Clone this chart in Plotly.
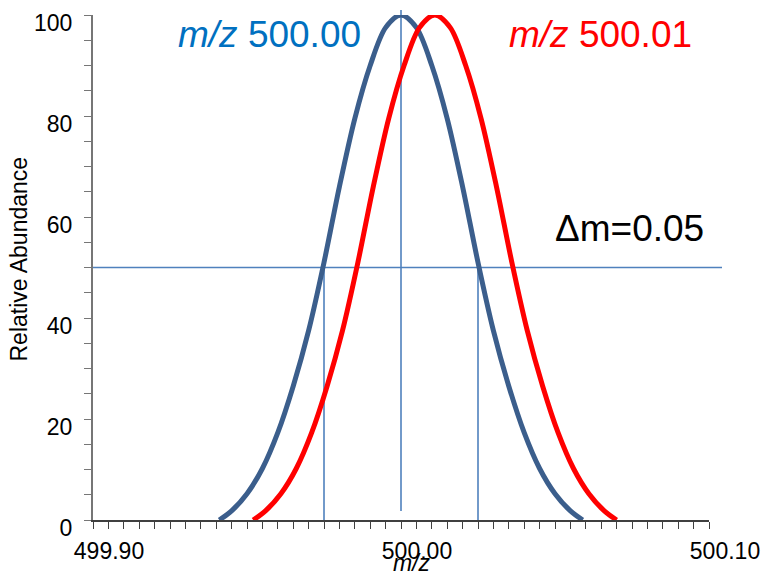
import plotly.graph_objects as go

# Peak profiles
mz_blue = [499.941, 499.945, 499.950, 499.955, 499.960, 499.965, 499.970,
           499.975, 499.980, 499.985, 499.990, 499.995, 500.000,
           500.005, 500.010, 500.015, 500.020, 500.025, 500.030,
           500.035, 500.040, 500.045, 500.050, 500.055, 500.059]
abund_blue = [0, 1.8, 5.2, 10.2, 17.3, 26.5, 37.5, 51, 66, 79.5, 90, 97.5, 100,
              97.5, 90, 79.5, 66, 51, 37.5, 26.5, 17.3, 10.2, 5.2, 1.8, 0]

mz_red = [499.952, 499.956, 499.961, 499.966, 499.971, 499.976, 499.981,
          499.986, 499.991, 499.996, 500.001, 500.006, 500.011,
          500.016, 500.021, 500.026, 500.031, 500.036, 500.041,
          500.046, 500.051, 500.056, 500.061, 500.066, 500.070]
abund_red = [0, 1.8, 5.2, 10.2, 17.3, 26.5, 37.5, 51, 66, 79.5, 90, 97.5, 100,
             97.5, 90, 79.5, 66, 51, 37.5, 26.5, 17.3, 10.2, 5.2, 1.8, 0]

# Reference marks
half_max = 50
fwhm_left = 499.975
fwhm_right = 500.025
center_blue = 500.00

x_range = [499.90, 500.10]
x_ticks = [499.90, 500.00, 500.10]
y_ticks = [0, 20, 40, 60, 80, 100]

FONT = "Liberation Sans, Arial, sans-serif"
BLUE = "#3B5E8C"
RED = "#FF0000"
THIN = "#4F81BD"

W, H = 765, 571
L, T = 93, 15
R = W - 709
B = H - 520
pw, ph = W - L - R, H - T - B


def px(x):
    return (x - L) / pw


def py(y):
    return 1 - (y - T) / ph


fig = go.Figure()
fig.add_trace(go.Scatter(x=mz_blue, y=abund_blue, mode="lines",
                         line=dict(color=BLUE, width=5, shape="spline", smoothing=0.9),
                         showlegend=False, hoverinfo="skip"))
fig.add_trace(go.Scatter(x=mz_red, y=abund_red, mode="lines",
                         line=dict(color=RED, width=5, shape="spline", smoothing=0.9),
                         showlegend=False, hoverinfo="skip"))

# horizontal half-maximum line (extends slightly past the axis end)
fig.add_shape(type="line", xref="paper", yref="y", x0=0, x1=px(722),
              y0=half_max, y1=half_max, line=dict(color=THIN, width=1.6), layer="below")
# FWHM verticals
for xv in (fwhm_left, fwhm_right):
    fig.add_shape(type="line", xref="x", yref="y", x0=xv, x1=xv, y0=0, y1=half_max,
                  line=dict(color=THIN, width=1.6), layer="below")
# center line
fig.add_shape(type="line", xref="x", yref="paper", x0=center_blue, x1=center_blue,
              y0=py(511), y1=py(10), line=dict(color=THIN, width=1.6), layer="below")

annots = [
    dict(text="<i>m/z</i> 500.00", color="#0070C0", cx=269.5, cy=34),
    dict(text="<i>m/z</i> 500.01", color=RED, cx=600, cy=34),
    dict(text="\u0394m=0.05", color="#000000", cx=629.5, cy=229),
]
for a in annots:
    fig.add_annotation(x=px(a["cx"]), y=py(a["cy"]),
                       xref="paper", yref="paper", text=a["text"], showarrow=False,
                       xanchor="center", yanchor="middle",
                       font=dict(family=FONT, size=37, color=a["color"]))

# axis titles as annotations
fig.add_annotation(x=px(412), y=py(563), xref="paper", yref="paper",
                   text="<i>m/z</i>", showarrow=False, xanchor="center", yanchor="middle",
                   font=dict(family=FONT, size=23, color="#000000"))
fig.add_annotation(x=px(18.5), y=py(259), xref="paper", yref="paper",
                   text="Relative Abundance", showarrow=False, textangle=-90,
                   xanchor="center", yanchor="middle",
                   font=dict(family=FONT, size=23, color="#000000"))

fig.update_layout(
    width=W, height=H,
    margin=dict(l=L, r=R, t=T, b=B, autoexpand=False),
    paper_bgcolor="white", plot_bgcolor="white",
    font=dict(family=FONT, size=23, color="#000000"),
    showlegend=False,
)
fig.update_xaxes(range=x_range, tickvals=x_ticks, tickformat=".2f",
                 showgrid=False, zeroline=False, automargin=False,
                 showline=True, linecolor="#404040", linewidth=1.5,
                 ticks="outside", ticklen=7, tickwidth=1.2, tickcolor="#404040",
                 minor=dict(dtick=0.005, ticks="outside", ticklen=7, tickwidth=1.2,
                            tickcolor="#404040", showgrid=False),
                 ticklabelshift=16, ticklabelstandoff=3, ticklabeloverflow="allow",
                 tickfont=dict(family=FONT, size=23, color="#000000"))
fig.update_yaxes(range=[0, 100], tickvals=y_ticks,
                 showgrid=False, zeroline=False, automargin=False,
                 showline=True, linecolor="#767676", linewidth=2,
                 ticks="outside", ticklen=7, tickwidth=1.2, tickcolor="#767676",
                 minor=dict(dtick=5, ticks="outside", ticklen=7, tickwidth=1.2,
                            tickcolor="#767676", showgrid=False),
                 ticklabelshift=8, ticklabelstandoff=7, ticklabeloverflow="allow",
                 tickfont=dict(family=FONT, size=23, color="#000000"))

fig.write_html("out.html", config={"displayModeBar": False},
               post_script="document.body.style.margin='0';document.body.style.overflow='hidden';")
